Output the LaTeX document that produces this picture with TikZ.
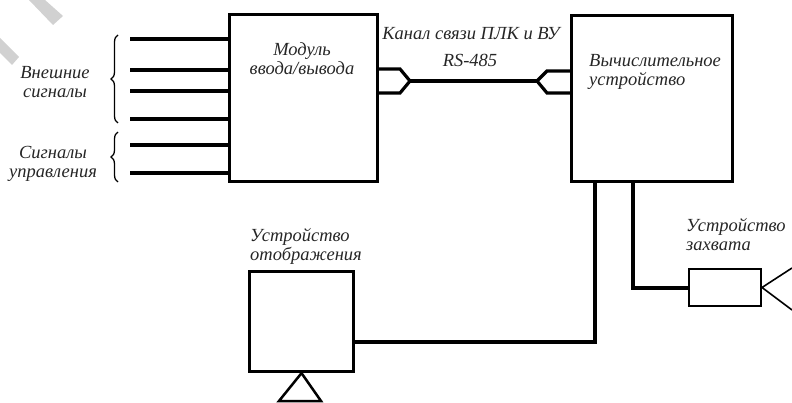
\documentclass[tikz,border=0pt]{standalone}
\usepackage{fontspec}
\setmainfont{Liberation Serif}
\usetikzlibrary{decorations.pathreplacing}

\begin{document}
\begin{tikzpicture}[x=1pt,y=-1pt,
    block/.style={draw,line width=3.2pt,inner sep=0pt},
    wire/.style={line width=3.2pt},
    txt/.style={font=\fontsize{18.5}{19.5}\selectfont\itshape,text=black!85,inner sep=0pt},
    brc/.style={decorate,decoration={brace,amplitude=7pt},line width=1.3pt}]

\useasboundingbox (0,0) rectangle (792,403);

% watermark stripes
\fill[black!18] (29,0) -- (45,0) -- (63,16) -- (53,25) -- cycle;
\fill[black!18] (0,38) -- (19,57) -- (12,65) -- (0,53) -- cycle;

% Blocks
\node[block,minimum width=148pt,minimum height=167pt] (module) at (303.5,98) {};
\node[block,minimum width=161pt,minimum height=166pt] (comp) at (652,98.5) {};
\node[block,minimum width=104pt,minimum height=100pt] (disp) at (301.5,321.5) {};
\node[draw,line width=2pt,inner sep=0pt,minimum width=72pt,minimum height=37pt] (capt) at (725,287.5) {};

% Texts
\node[txt,align=center,anchor=north] (moduletxt) at (302,42) {Модуль\\ввода/вывода};
\node[txt,align=left,anchor=north west] (comptxt) at (589,54) {Вычислительное\\устройство};
\node[txt,anchor=base] (chan) at (471,40) {Канал связи ПЛК и ВУ};
\node[txt,anchor=base] (rs) at (470,67) {RS-485};
\node[txt,align=center,anchor=north] (ext) at (55,66) {Внешние\\сигналы};
\node[txt,align=center,anchor=north] (ctrl) at (53,146) {Сигналы\\управления};
\node[txt,align=left,anchor=north west] (disptxt) at (250,228) {Устройство\\отображения};
\node[txt,align=left,anchor=north west] (capttxt) at (686,218) {Устройство\\захвата};

% Input lines into the module
\foreach \y [count=\i] in {39,70,91,119,145,173} {
    \coordinate (in\i) at (130,\y);
    \draw[wire] (in\i) -- (in\i -| module.west);
}

% Braces
\draw[brc] (118,123) -- (118,35);
\draw[brc] (118,182) -- (118,132);

% RS-485 link with plugs
\coordinate (plugL) at (410,81);
\coordinate (plugLa) at (400,69);
\coordinate (plugLb) at (400,93);
\coordinate (plugR) at (537,81);
\coordinate (plugRa) at (547,71);
\coordinate (plugRb) at (547,93);
\draw[wire] (module.east |- plugLa) -- (plugLa) -- (plugL) -- (plugLb) -- (module.east |- plugLb);
\draw[wire] (comp.west |- plugRa) -- (plugRa) -- (plugR) -- (plugRb) -- (comp.west |- plugRb);
\draw[wire] (plugL) -- (plugR);

% computer to display and capture device
\coordinate (dropA) at (595,342);
\coordinate (dropB) at (633,288);
\draw[wire] (dropA |- comp.south) -- (dropA) -- (disp.east |- dropA);
\draw[wire] (dropB |- comp.south) -- (dropB) -- (capt.west |- dropB);

% lens of the capture device
\coordinate (lensA) at (792,268);
\coordinate (lensB) at (792,310);
\draw[line width=1.6pt] (lensA) -- (capt.east) -- (lensB);

% stand of the display
\coordinate (standL) at (279,401);
\coordinate (standR) at (321,401);
\draw[line width=2.5pt,line join=miter] (disp.south) -- (standR) -- (standL) -- cycle;

\end{tikzpicture}
\end{document}
